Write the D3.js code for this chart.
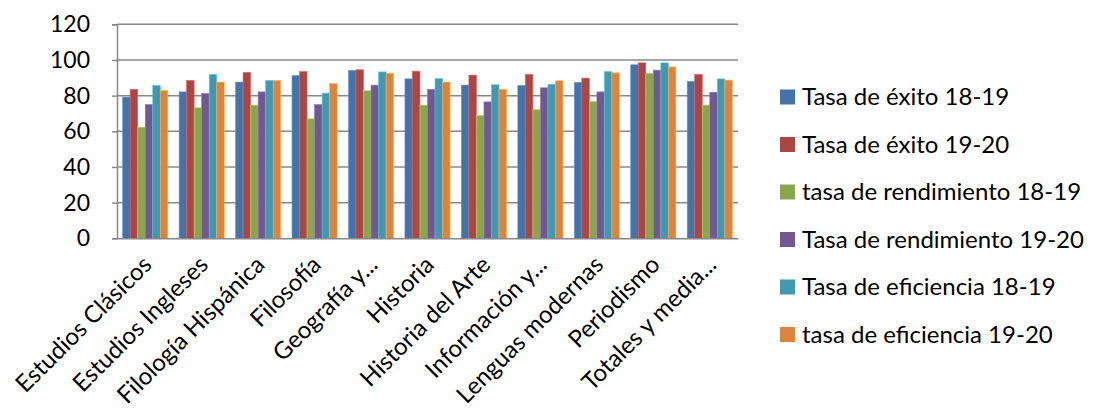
<!DOCTYPE html>
<html>
<head>
<meta charset="utf-8">
<script src="https://cdn.jsdelivr.net/npm/d3@7"></script>
<style>
  html, body { margin: 0; padding: 0; background: #fff; }
  svg { display: block; }
  text { font-family: Lato, "Open Sans", sans-serif; fill: #000; }
</style>
</head>
<body>
<svg id="chart" width="1096" height="415"></svg>
<script>
const categories = ["Estudios Clásicos", "Estudios Ingleses", "Filología Hispánica", "Filosofía", "Geografía y...", "Historia", "Historia del Arte", "Información y...", "Lenguas modernas", "Periodismo", "Totales y media..."];
const seriesNames = ["Tasa de éxito 18-19", "Tasa de éxito 19-20", "tasa de rendimiento 18-19", "Tasa de rendimiento 19-20", "Tasa de eficiencia 18-19", "tasa de eficiencia 19-20"];
const exito1819 = [79.2, 82.1, 87.6, 91.3, 94.1, 89.4, 85.9, 85.7, 87.4, 97.3, 88.0];
const exito1920 = [83.5, 88.5, 93.0, 93.5, 94.5, 93.7, 91.5, 91.9, 89.8, 98.4, 91.9];
const rend1819 = [62.3, 73.2, 74.7, 67.0, 82.9, 74.7, 68.9, 72.3, 76.7, 92.6, 74.7];
const rend1920 = [75.0, 81.2, 82.1, 75.0, 85.9, 83.5, 76.5, 84.4, 82.1, 94.3, 81.9];
const efic1819 = [85.7, 91.9, 88.5, 81.4, 93.3, 89.6, 86.1, 86.4, 93.5, 98.4, 89.4];
const efic1920 = [82.9, 87.6, 88.5, 86.8, 92.6, 87.6, 83.6, 88.3, 92.8, 96.1, 88.7];
const yTicks = [0, 20, 40, 60, 80, 100, 120];
const colors = ["#4572A7", "#AA4643", "#89A54E", "#71588F", "#4198AF", "#DB843D"];

const seriesValues = [exito1819, exito1920, rend1819, rend1920, efic1819, efic1920];

const svg = d3.select("#chart");
const mLeft = 117, mRight = 738, mTop = 24.3, mBottom = 238.3;

const x = d3.scaleBand().domain(categories).range([mLeft, mRight]).paddingInner(0.2).paddingOuter(0.1);
const xs = d3.scaleBand().domain(d3.range(seriesNames.length)).range([0, x.bandwidth()]).padding(0);
const y = d3.scaleLinear().domain([0, 120]).range([mBottom, mTop]);

// gridlines
svg.append("g").selectAll("line").data(yTicks.filter(d => d > 0)).join("line")
  .attr("x1", mLeft).attr("x2", mRight)
  .attr("y1", d => y(d)).attr("y2", d => y(d))
  .attr("stroke", "#888").attr("stroke-width", 1.5);

// bars
const groups = svg.append("g").selectAll("g").data(categories).join("g")
  .attr("transform", c => `translate(${x(c)},0)`);
groups.selectAll("rect").data((c, i) => seriesValues.map((s, k) => ({k, v: s[i]}))).join("rect")
  .attr("x", d => xs(d.k))
  .attr("width", xs.bandwidth())
  .attr("y", d => y(d.v))
  .attr("height", d => y(0) - y(d.v))
  .attr("fill", d => colors[d.k])
  .attr("stroke", d => d3.color(colors[d.k]).brighter(0.8))
  .attr("stroke-width", 0.6);

// y axis
const yAxis = d3.axisLeft(y).tickValues(yTicks).tickSize(5).tickPadding(22).tickFormat(d3.format("d"));
const gy = svg.append("g").attr("transform", `translate(${mLeft},0)`).call(yAxis);
gy.select(".domain").attr("stroke", "#888").attr("stroke-width", 1.5);
gy.selectAll(".tick line").attr("stroke", "#888").attr("stroke-width", 1.5);
gy.selectAll(".tick text").attr("font-size", 23).attr("font-family", "Lato, sans-serif").attr("fill", "#000");

// x axis
const xAxis = d3.axisBottom(x).tickSize(0).tickPadding(0);
const gx = svg.append("g").attr("transform", `translate(0,${mBottom})`).call(xAxis);
gx.select(".domain").attr("stroke", "#888").attr("stroke-width", 1.5);
gx.selectAll(".tick text")
  .attr("font-size", 24).attr("font-family", "Lato, sans-serif").attr("fill", "#000")
  .attr("text-anchor", "end")
  .attr("dy", "0.35em")
  .attr("transform", "translate(2,22) rotate(-45)");

// legend
const legend = svg.append("g").selectAll("g").data(seriesNames).join("g")
  .attr("transform", (d, i) => `translate(780,${97 + i * 47.5})`);
legend.append("rect").attr("x", 0).attr("y", -7.5).attr("width", 15).attr("height", 15)
  .attr("fill", (d, i) => colors[i]);
legend.append("text").attr("x", 22).attr("y", 0).attr("dy", "0.35em")
  .attr("font-size", 24).text(d => d);
</script>
</body>
</html>
